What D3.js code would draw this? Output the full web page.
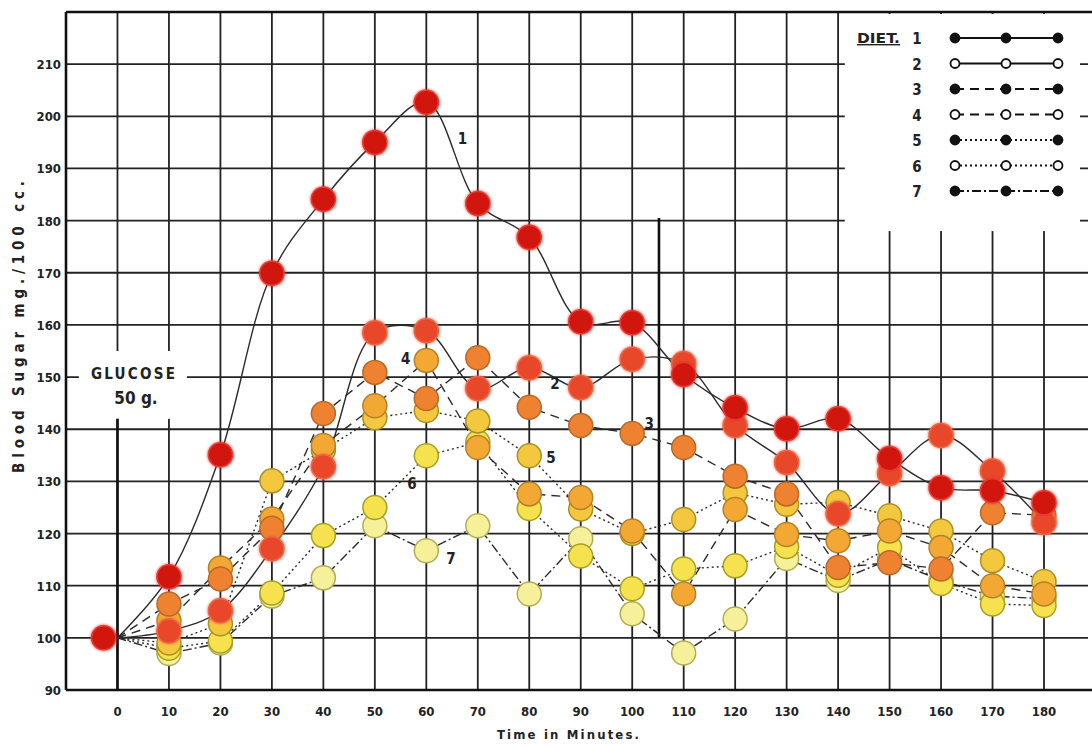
<!DOCTYPE html>
<html>
<head>
<meta charset="utf-8">
<script src="https://cdn.jsdelivr.net/npm/d3@7"></script>
<style>
  body { margin: 0; background: #fff; }
  svg text { font-family: "DejaVu Sans Condensed", "DejaVu Sans", sans-serif; fill: #222; font-weight: bold; }
</style>
</head>
<body>
<svg></svg>
<script>
//Dimensions
const width = 1092, height = 746;

//Data
const times = [0, 10, 20, 30, 40, 50, 60, 70, 80, 90, 100, 110, 120, 130, 140, 150, 160, 170, 180];
const diet1 = [100, 111.7, 135.1, 169.9, 184.1, 195, 202.7, 183.3, 176.8, 160.6, 160.4, 150.5, 144.1, 140.1, 142, 134.4, 128.8, 128.2, 125.9];
const diet2 = [100, 101.3, 105.2, 117.1, 132.8, 158.5, 158.9, 147.8, 151.8, 148, 153.4, 152.6, 140.7, 133.6, 123.8, 131.5, 138.8, 132, 122.1];
const diet3 = [100, 106.5, 111.3, 121, 143, 150.9, 145.9, 153.7, 144.2, 140.7, 139.2, 136.5, 131, 127.6, 113.5, 114.4, 113.2, 124, 123.5];
const diet4 = [100, 103.3, 113.4, 122.8, 136.9, 144.5, 153.2, 136.5, 127.6, 126.9, 120.5, 108.4, 124.6, 119.8, 118.6, 120.5, 117.3, 110, 108.4];
const diet5 = [100, 99, 102.7, 130.1, 136, 142.2, 143.6, 141.6, 134.9, 124.7, 120, 122.7, 127.8, 125.6, 126, 123.4, 120.5, 114.8, 110.8];
const diet6 = [100, 98, 99.4, 108.6, 119.6, 125, 134.9, 137.5, 124.8, 115.7, 109.4, 113.2, 113.8, 117.5, 112, 117.3, 110.4, 106.5, 106.2];
const diet7 = [100, 97, 99, 108, 111.5, 121.5, 116.7, 121.5, 108.4, 119, 104.6, 97.1, 103.6, 115.2, 111, 115, 111, 108, 107.5];

const dietNames = ["1", "2", "3", "4", "5", "6", "7"];
const dietValues = [diet1, diet2, diet3, diet4, diet5, diet6, diet7];
const dietFill = ["#d0120e", "#e9472a", "#ee8231", "#f3a833", "#f4c83e", "#f6e24e", "#f6f09a"];
const dietEdge = ["#e83a30", "#ee6545", "#b8692a", "#b4812a", "#a99125", "#a6a022", "#b0ae55"];
const dietOpen = [false, true, false, true, false, true, false];
const dietDash = [null, null, "9,6", "9,6", "2,3", "2,3", "9,3,2,3"];
// where the hand-written series numbers sit: [minutes, mg]
const dietLabelAt = [[67, 195.8], [85, 148.9], [103.3, 141.1], [56, 153.6], [84.2, 134.7], [57.2, 129.6], [64.8, 115.4]];

const yTicks = [90, 100, 110, 120, 130, 140, 150, 160, 170, 180, 190, 200, 210];
const xTicks = [0, 10, 20, 30, 40, 50, 60, 70, 80, 90, 100, 110, 120, 130, 140, 150, 160, 170, 180];
const fastingTime = -2.7, fastingValue = 100;

//Scales
const x = d3.scaleLinear().domain([-10, 180]).range([66, 1044]);
const y = d3.scaleLinear().domain([90, 220]).range([690, 12]);

const svg = d3.select("svg").attr("width", width).attr("height", height);

const defs = svg.append("defs");
const glow = defs.append("filter").attr("id", "glow").attr("x", "-50%").attr("y", "-50%").attr("width", "200%").attr("height", "200%");
glow.append("feGaussianBlur").attr("in", "SourceGraphic").attr("stdDeviation", 1.6).attr("result", "b");
const fm = glow.append("feMerge");
fm.append("feMergeNode").attr("in", "b");
fm.append("feMergeNode").attr("in", "SourceGraphic");

//Grid
const grid = svg.append("g").attr("stroke", "#222").attr("stroke-width", 1.8);
grid.selectAll("line.h").data(yTicks.filter(d => d > 90)).enter().append("line")
  .attr("x1", x(-10)).attr("x2", 1088).attr("y1", d => y(d)).attr("y2", d => y(d));
grid.selectAll("line.v").data(xTicks).enter().append("line")
  .attr("x1", d => x(d)).attr("x2", d => x(d)).attr("y1", y(220)).attr("y2", y(90));

// blank patches of the printed sheet (legend box, glucose note)
svg.append("rect").attr("x", x(141.3)).attr("y", 14).attr("width", 1080 - x(141.3)).attr("height", y(178) - 14).attr("fill", "#fff");
svg.append("rect").attr("x", x(-7.5)).attr("y", y(155)).attr("width", x(13.5) - x(-7.5)).attr("height", y(142) - y(155)).attr("fill", "#fff");

//Frame
const frame = svg.append("g").attr("stroke", "#111").attr("stroke-width", 2.6);
frame.append("line").attr("x1", x(-10)).attr("x2", width).attr("y1", y(220)).attr("y2", y(220));
frame.append("line").attr("x1", x(-10)).attr("x2", width).attr("y1", y(90)).attr("y2", y(90));
frame.append("line").attr("x1", x(-10)).attr("x2", x(-10)).attr("y1", y(220)).attr("y2", y(90));
// glucose given at time 0, second marker line
frame.append("line").attr("x1", x(0)).attr("x2", x(0)).attr("y1", y(142)).attr("y2", y(90));
frame.append("line").attr("x1", x(105.2)).attr("x2", x(105.2)).attr("y1", y(180.5)).attr("y2", y(100));

//Axes text
svg.append("g").selectAll("text").data(yTicks).enter().append("text")
  .attr("x", x(-10) - 5).attr("y", d => y(d) + 5).attr("text-anchor", "end")
  .attr("font-size", 13).text(d => d);
svg.append("g").selectAll("text").data(xTicks).enter().append("text")
  .attr("x", d => x(d)).attr("y", 716).attr("text-anchor", "middle")
  .attr("font-size", 13).text(d => d);
svg.append("text").attr("x", 568).attr("y", 739).attr("text-anchor", "middle")
  .attr("font-size", 13).attr("textLength", 142).attr("lengthAdjust", "spacing")
  .text("Time in Minutes.");
svg.append("text").attr("transform", `translate(24,${y(159.6)}) rotate(-90)`)
  .attr("text-anchor", "middle").attr("font-size", 15)
  .attr("textLength", 292).attr("lengthAdjust", "spacing")
  .text("Blood Sugar mg./100 cc.");

svg.append("text").attr("x", x(3)).attr("y", y(149.7)).attr("text-anchor", "middle")
  .attr("font-size", 15).attr("textLength", 84).attr("lengthAdjust", "spacing").text("GLUCOSE");
svg.append("text").attr("x", x(3.6)).attr("y", y(144.8)).attr("text-anchor", "middle")
  .attr("font-size", 17).text("50 g.");

//Lines
const lineFor = i => d3.line()
  .x((d, j) => x(times[j]))
  .y(d => y(d))
  .curve(i < 2 ? d3.curveCatmullRom.alpha(0.5) : d3.curveLinear);

const order = [6, 5, 4, 3, 2, 1, 0];
svg.append("g").selectAll("path").data(order).enter().append("path")
  .attr("d", i => lineFor(i)(dietValues[i]))
  .attr("fill", "none").attr("stroke", "#2a2a2a").attr("stroke-width", 1.4)
  .attr("stroke-dasharray", i => dietDash[i]);

//Series numbers
svg.append("g").selectAll("text").data(dietNames).enter().append("text")
  .attr("x", (d, i) => x(dietLabelAt[i][0])).attr("y", (d, i) => y(dietLabelAt[i][1]) + 6)
  .attr("text-anchor", "middle").attr("font-size", 15).text(d => d);

//Dots
const dots = svg.append("g");
order.forEach(i => {
  dots.selectAll(null).data(dietValues[i].slice(1)).enter().append("circle")
    .attr("cx", (d, j) => x(times[j + 1])).attr("cy", d => y(d)).attr("r", 12)
    .attr("fill", dietFill[i]).attr("stroke", dietEdge[i]).attr("stroke-width", 1.5)
    .attr("filter", i < 2 ? "url(#glow)" : null);
});
dots.append("circle").attr("cx", x(fastingTime)).attr("cy", y(fastingValue)).attr("r", 12)
  .attr("fill", dietFill[0]).attr("stroke", dietEdge[0]).attr("stroke-width", 1.5).attr("filter", "url(#glow)");

//Legend
const legend = svg.append("g");
legend.append("text").attr("x", 857).attr("y", 43).attr("font-size", 14)
  .attr("text-decoration", "underline").attr("textLength", 43).attr("lengthAdjust", "spacingAndGlyphs").text("DIET.");
const legX = [955, 1006, 1058];
dietNames.forEach((n, i) => {
  const ly = 38 + i * 25.5;
  legend.append("text").attr("x", 917).attr("y", ly + 6).attr("text-anchor", "middle").attr("font-size", 15).text(n);
  legend.append("line").attr("x1", legX[0]).attr("x2", legX[2]).attr("y1", ly).attr("y2", ly)
    .attr("stroke", "#111").attr("stroke-width", 1.8).attr("stroke-dasharray", dietDash[i]);
  legend.selectAll(null).data(legX).enter().append("circle")
    .attr("cx", d => d).attr("cy", ly).attr("r", 4.5)
    .attr("fill", dietOpen[i] ? "#fff" : "#111").attr("stroke", "#111").attr("stroke-width", 1.8);
});
</script>
</body>
</html>
